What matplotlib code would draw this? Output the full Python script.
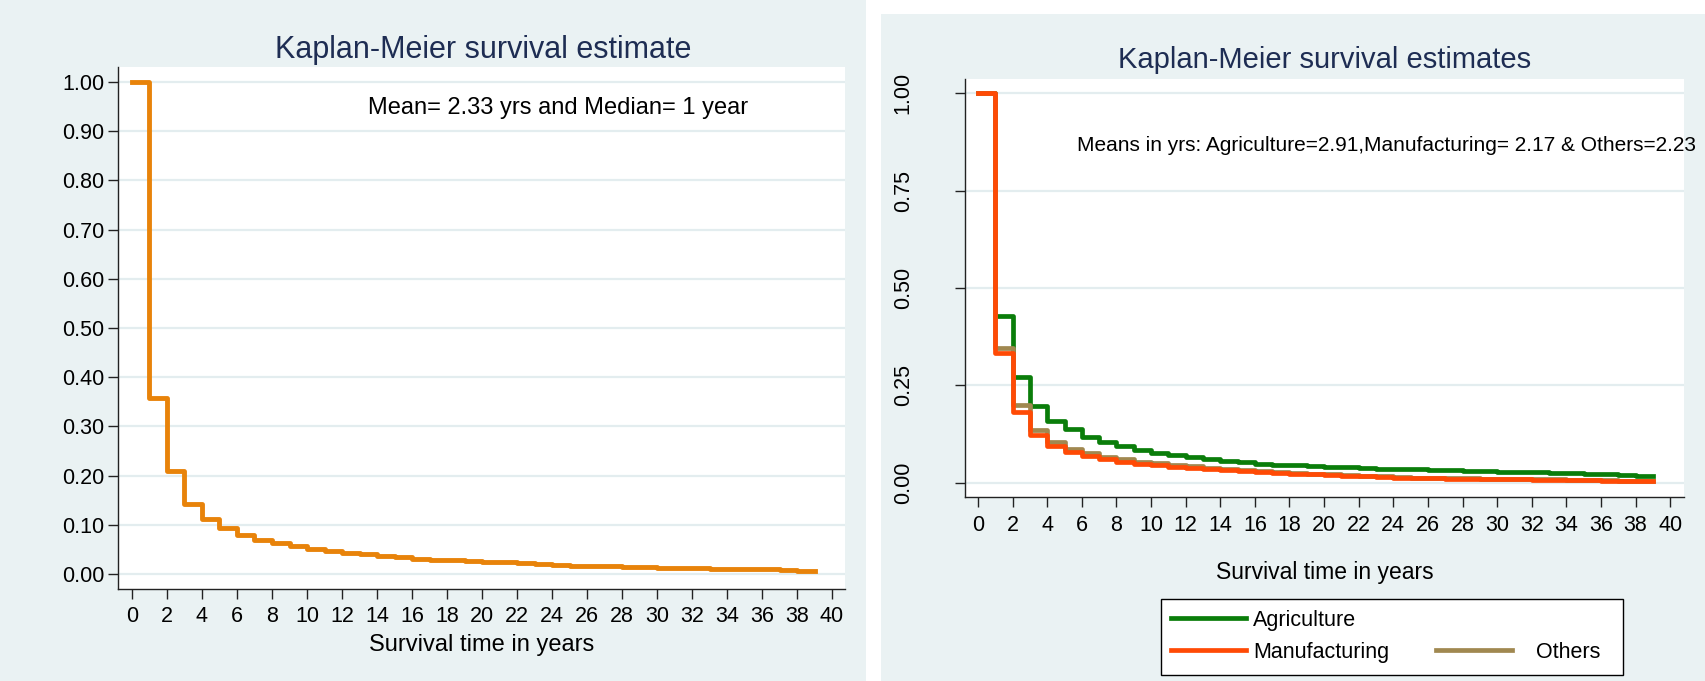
import numpy as np
import matplotlib.pyplot as plt
from matplotlib.patches import Rectangle
from matplotlib.lines import Line2D

plt.rcParams['font.family'] = ['Liberation Sans', 'DejaVu Sans']

# survival at start of each year (0..38), curves run to year 39
years = list(range(0, 39))
end_year = 39

km_all = [1.000, 0.358, 0.209, 0.143, 0.112, 0.093, 0.079, 0.069, 0.062, 0.057,
          0.050, 0.047, 0.043, 0.040, 0.037, 0.034, 0.031, 0.029, 0.028, 0.026,
          0.025, 0.024, 0.022, 0.021, 0.019, 0.017, 0.016, 0.016, 0.015, 0.014,
          0.013, 0.013, 0.012, 0.011, 0.011, 0.011, 0.010, 0.008, 0.007]

km_agri = [1.000, 0.429, 0.272, 0.197, 0.159, 0.137, 0.118, 0.105, 0.094, 0.084,
           0.077, 0.071, 0.065, 0.060, 0.056, 0.053, 0.049, 0.046, 0.044, 0.042,
           0.041, 0.039, 0.037, 0.036, 0.035, 0.034, 0.033, 0.032, 0.030, 0.029,
           0.028, 0.027, 0.026, 0.025, 0.024, 0.023, 0.022, 0.020, 0.017]

km_manu = [1.000, 0.332, 0.182, 0.122, 0.094, 0.078, 0.068, 0.060, 0.054, 0.048,
           0.044, 0.041, 0.037, 0.034, 0.032, 0.030, 0.027, 0.025, 0.023, 0.021,
           0.019, 0.018, 0.016, 0.014, 0.013, 0.012, 0.011, 0.010, 0.010, 0.009,
           0.008, 0.008, 0.007, 0.007, 0.006, 0.006, 0.005, 0.005, 0.004]

km_other = [1.000, 0.345, 0.199, 0.135, 0.104, 0.086, 0.075, 0.067, 0.060, 0.054,
            0.050, 0.046, 0.042, 0.038, 0.035, 0.033, 0.030, 0.027, 0.025, 0.023,
            0.021, 0.020, 0.018, 0.016, 0.014, 0.013, 0.012, 0.011, 0.011, 0.010,
            0.009, 0.009, 0.008, 0.008, 0.007, 0.006, 0.006, 0.005, 0.004]

xticks = list(range(0, 41, 2))
yticks_left = [0.0, 0.1, 0.2, 0.3, 0.4, 0.5, 0.6, 0.7, 0.8, 0.9, 1.0]
yticks_right = [0.0, 0.25, 0.5, 0.75, 1.0]

bg = '#EAF2F3'
grid_c = '#E3EDEF'
title_c = '#1E2D53'
axis_c = '#222222'
W, H = 1705, 681


def steps(vals):
    t = years + [end_year]
    s = vals + [vals[-1]]
    return t, s


def style_axes(ax, yticks, fmt):
    ax.set_facecolor('white')
    for side in ['top', 'right']:
        ax.spines[side].set_visible(False)
    for side in ['left', 'bottom']:
        ax.spines[side].set_color(axis_c)
        ax.spines[side].set_linewidth(1.0)
    ax.set_xticks(xticks)
    ax.set_yticks(yticks)
    ax.set_yticklabels([fmt % v for v in yticks])
    ax.tick_params(direction='out', length=7, width=1, color=axis_c, labelsize=15.5)
    for y in yticks:
        ax.axhline(y, color=grid_c, lw=1.6, zorder=0)


fig = plt.figure(figsize=(W / 100, H / 100), dpi=100, facecolor='white')
fig.patches.append(Rectangle((0, 0), 866 / W, 1, transform=fig.transFigure,
                             facecolor=bg, edgecolor='none', zorder=-10))
fig.patches.append(Rectangle((881 / W, 0), 1 - 881 / W, 1 - 14 / H,
                             transform=fig.transFigure, facecolor=bg,
                             edgecolor='none', zorder=-10))

# ---------------- left panel
ax1 = fig.add_axes([0.0692, 0.1351, 0.4264, 0.7665])
style_axes(ax1, yticks_left, '%.2f')
t, s = steps(km_all)
ax1.step(t, s, where='post', color='#E8830A', lw=3.5)
ax1.set_xlim(-0.8, 40.74)
ax1.set_ylim(-0.0305, 1.0305)
ax1.tick_params(axis='y', pad=3)
ax1.tick_params(axis='x', pad=5)
ax1.set_xlabel('Survival time in years', fontsize=17, labelpad=5)
ax1.text(13.5, 0.947, 'Mean= 2.33 yrs and Median= 1 year', fontsize=17, va='center')
fig.text(0.2833, 0.927, 'Kaplan-Meier survival estimate', fontsize=22,
         color=title_c, ha='center', va='center')

# ---------------- right panel
ax2 = fig.add_axes([0.566, 0.2702, 0.4217, 0.6138])
style_axes(ax2, yticks_right, '%.2f')
t, s = steps(km_agri)
ax2.step(t, s, where='post', color='#0A7D0A', lw=3.4, label='Agriculture')
t, s = steps(km_other)
ax2.step(t, s, where='post', color='#A08850', lw=3.4, label='Others')
t, s = steps(km_manu)
ax2.step(t, s, where='post', color='#FF4A05', lw=3.4, label='Manufacturing')
ax2.set_xlim(-0.75, 40.8)
ax2.set_ylim(-0.037, 1.037)
for lab in ax2.get_yticklabels():
    lab.set_rotation(90)
    lab.set_va('center')
ax2.tick_params(axis='y', pad=30)
ax2.tick_params(axis='x', pad=6)
ax2.set_xlabel('Survival time in years', fontsize=16.5, labelpad=18)
ax2.text(5.72, 0.866, 'Means in yrs: Agriculture=2.91,Manufacturing= 2.17 & Others=2.23',
         fontsize=15, va='center', clip_on=False)
fig.text(0.7771, 0.912, 'Kaplan-Meier survival estimates', fontsize=21,
         color=title_c, ha='center', va='center')

# legend box (frame drawn separately so its size matches the reference)
fig.patches.append(Rectangle((1161 / W, 1 - 675 / H), 462 / W, 76 / H,
                             transform=fig.transFigure, facecolor='white',
                             edgecolor='black', lw=1.0, zorder=5))
h = {l.get_label(): l for l in ax2.get_lines() if not l.get_label().startswith('_')}
blank = Line2D([], [], color='none')
leg = fig.legend([h['Agriculture'], h['Manufacturing'], blank, h['Others']],
                 ['Agriculture', 'Manufacturing', '', '   Others'],
                 ncol=2, loc='upper left', bbox_to_anchor=(1171 / W, 1 - 610 / H),
                 fontsize=15.5, handlelength=3.5, handletextpad=0.3,
                 columnspacing=2.2, labelspacing=0.5, borderpad=0,
                 borderaxespad=0, frameon=False)
leg.set_zorder(6)

fig.savefig('out.png', dpi=100, facecolor=fig.get_facecolor())
